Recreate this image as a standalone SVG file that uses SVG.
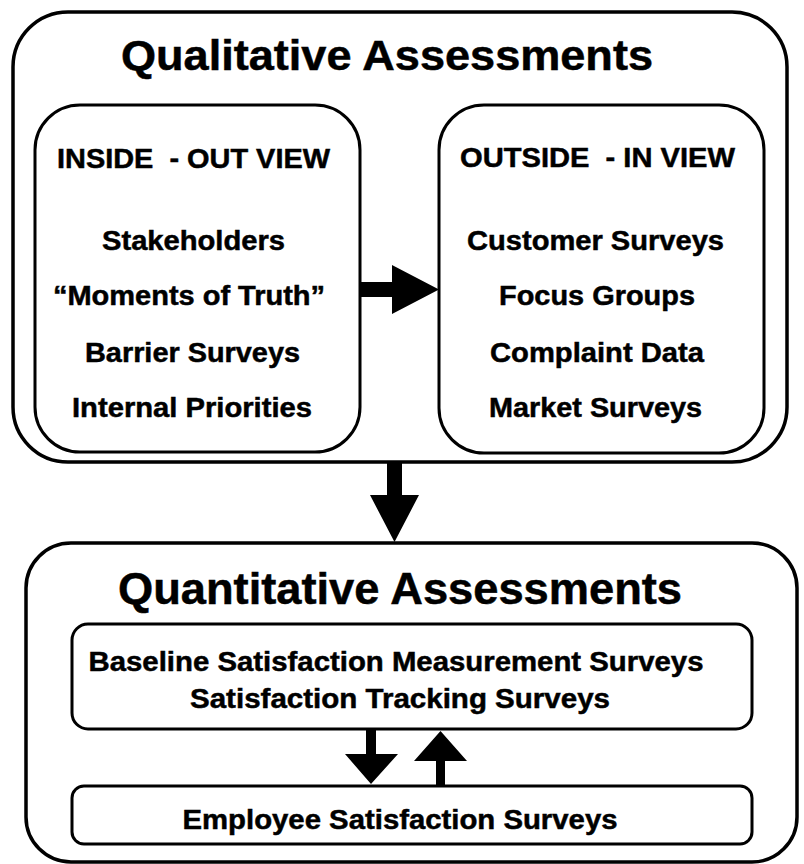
<svg xmlns="http://www.w3.org/2000/svg" width="804" height="864" viewBox="0 0 804 864">
  <style>
    .box { fill: #ffffff; stroke: #000000; stroke-width: 3.5; }
    .inner { fill: #ffffff; stroke: #000000; stroke-width: 3; }
    text { font-family: 'Liberation Sans', Arimo, Arial, Helvetica, sans-serif; font-weight: 700; fill: #000; stroke: #000; stroke-width: 0.5; text-anchor: middle; }
    .label { font-size: 28px; white-space: pre; }
    .arrow { fill: #000000; stroke: none; }
  </style>

  <!-- upper container -->
  <g id="qualitative">
    <rect class="box" x="13" y="12" width="774" height="450" rx="55" ry="55"/>
    <text x="387" y="70" font-size="42" textLength="532" lengthAdjust="spacingAndGlyphs">Qualitative Assessments</text>
  </g>

  <g id="inside-out">
    <rect class="inner" x="35" y="105" width="325" height="347" rx="45" ry="45"/>
    <text class="label" x="193.5" y="168" textLength="273" lengthAdjust="spacingAndGlyphs" xml:space="preserve">INSIDE  - OUT VIEW</text>
    <text class="label" x="193.5" y="250" textLength="183" lengthAdjust="spacingAndGlyphs">Stakeholders</text>
    <text class="label" x="189" y="305" textLength="272" lengthAdjust="spacingAndGlyphs">“Moments of Truth”</text>
    <text class="label" x="192.5" y="362" textLength="215" lengthAdjust="spacingAndGlyphs">Barrier Surveys</text>
    <text class="label" x="192" y="417" textLength="240" lengthAdjust="spacingAndGlyphs">Internal Priorities</text>
  </g>

  <g id="outside-in">
    <rect class="inner" x="439" y="105" width="325" height="348" rx="45" ry="45"/>
    <text class="label" x="597.5" y="167" textLength="275" lengthAdjust="spacingAndGlyphs" xml:space="preserve">OUTSIDE  - IN VIEW</text>
    <text class="label" x="595.5" y="250" textLength="257" lengthAdjust="spacingAndGlyphs">Customer Surveys</text>
    <text class="label" x="597" y="305" textLength="196" lengthAdjust="spacingAndGlyphs">Focus Groups</text>
    <text class="label" x="597" y="362" textLength="214" lengthAdjust="spacingAndGlyphs">Complaint Data</text>
    <text class="label" x="595.5" y="417" textLength="213" lengthAdjust="spacingAndGlyphs">Market Surveys</text>
  </g>

  <!-- lower container -->
  <g id="quantitative">
    <rect class="box" x="26" y="543" width="771" height="319" rx="45" ry="45"/>
    <text x="400" y="604" font-size="44" textLength="564" lengthAdjust="spacingAndGlyphs">Quantitative Assessments</text>
  </g>

  <g id="satisfaction-surveys">
    <rect class="inner" x="72" y="624" width="680" height="105" rx="16" ry="16"/>
    <text class="label" x="396" y="671" textLength="615" lengthAdjust="spacingAndGlyphs">Baseline Satisfaction Measurement Surveys</text>
    <text class="label" x="400" y="708" textLength="420" lengthAdjust="spacingAndGlyphs">Satisfaction Tracking Surveys</text>
  </g>

  <g id="employee-surveys">
    <rect class="inner" x="72" y="786" width="680" height="58" rx="12" ry="12"/>
    <text class="label" x="400" y="829" textLength="435" lengthAdjust="spacingAndGlyphs">Employee Satisfaction Surveys</text>
  </g>

  <!-- connectors -->
  <g id="connectors">
    <polygon class="arrow" points="359,282 392,282 392,265 439,289.5 392,314 392,297 359,297"/>
    <polygon class="arrow" points="387,462 402,462 402,495 419,495 394.5,542 370,495 387,495"/>
    <polygon class="arrow" points="366,729 376,729 376,754 398,754 371,784 345,754 366,754"/>
    <polygon class="arrow" points="436,786 445,786 445,761 467,761 440.5,731 414,761 436,761"/>
  </g>
</svg>
